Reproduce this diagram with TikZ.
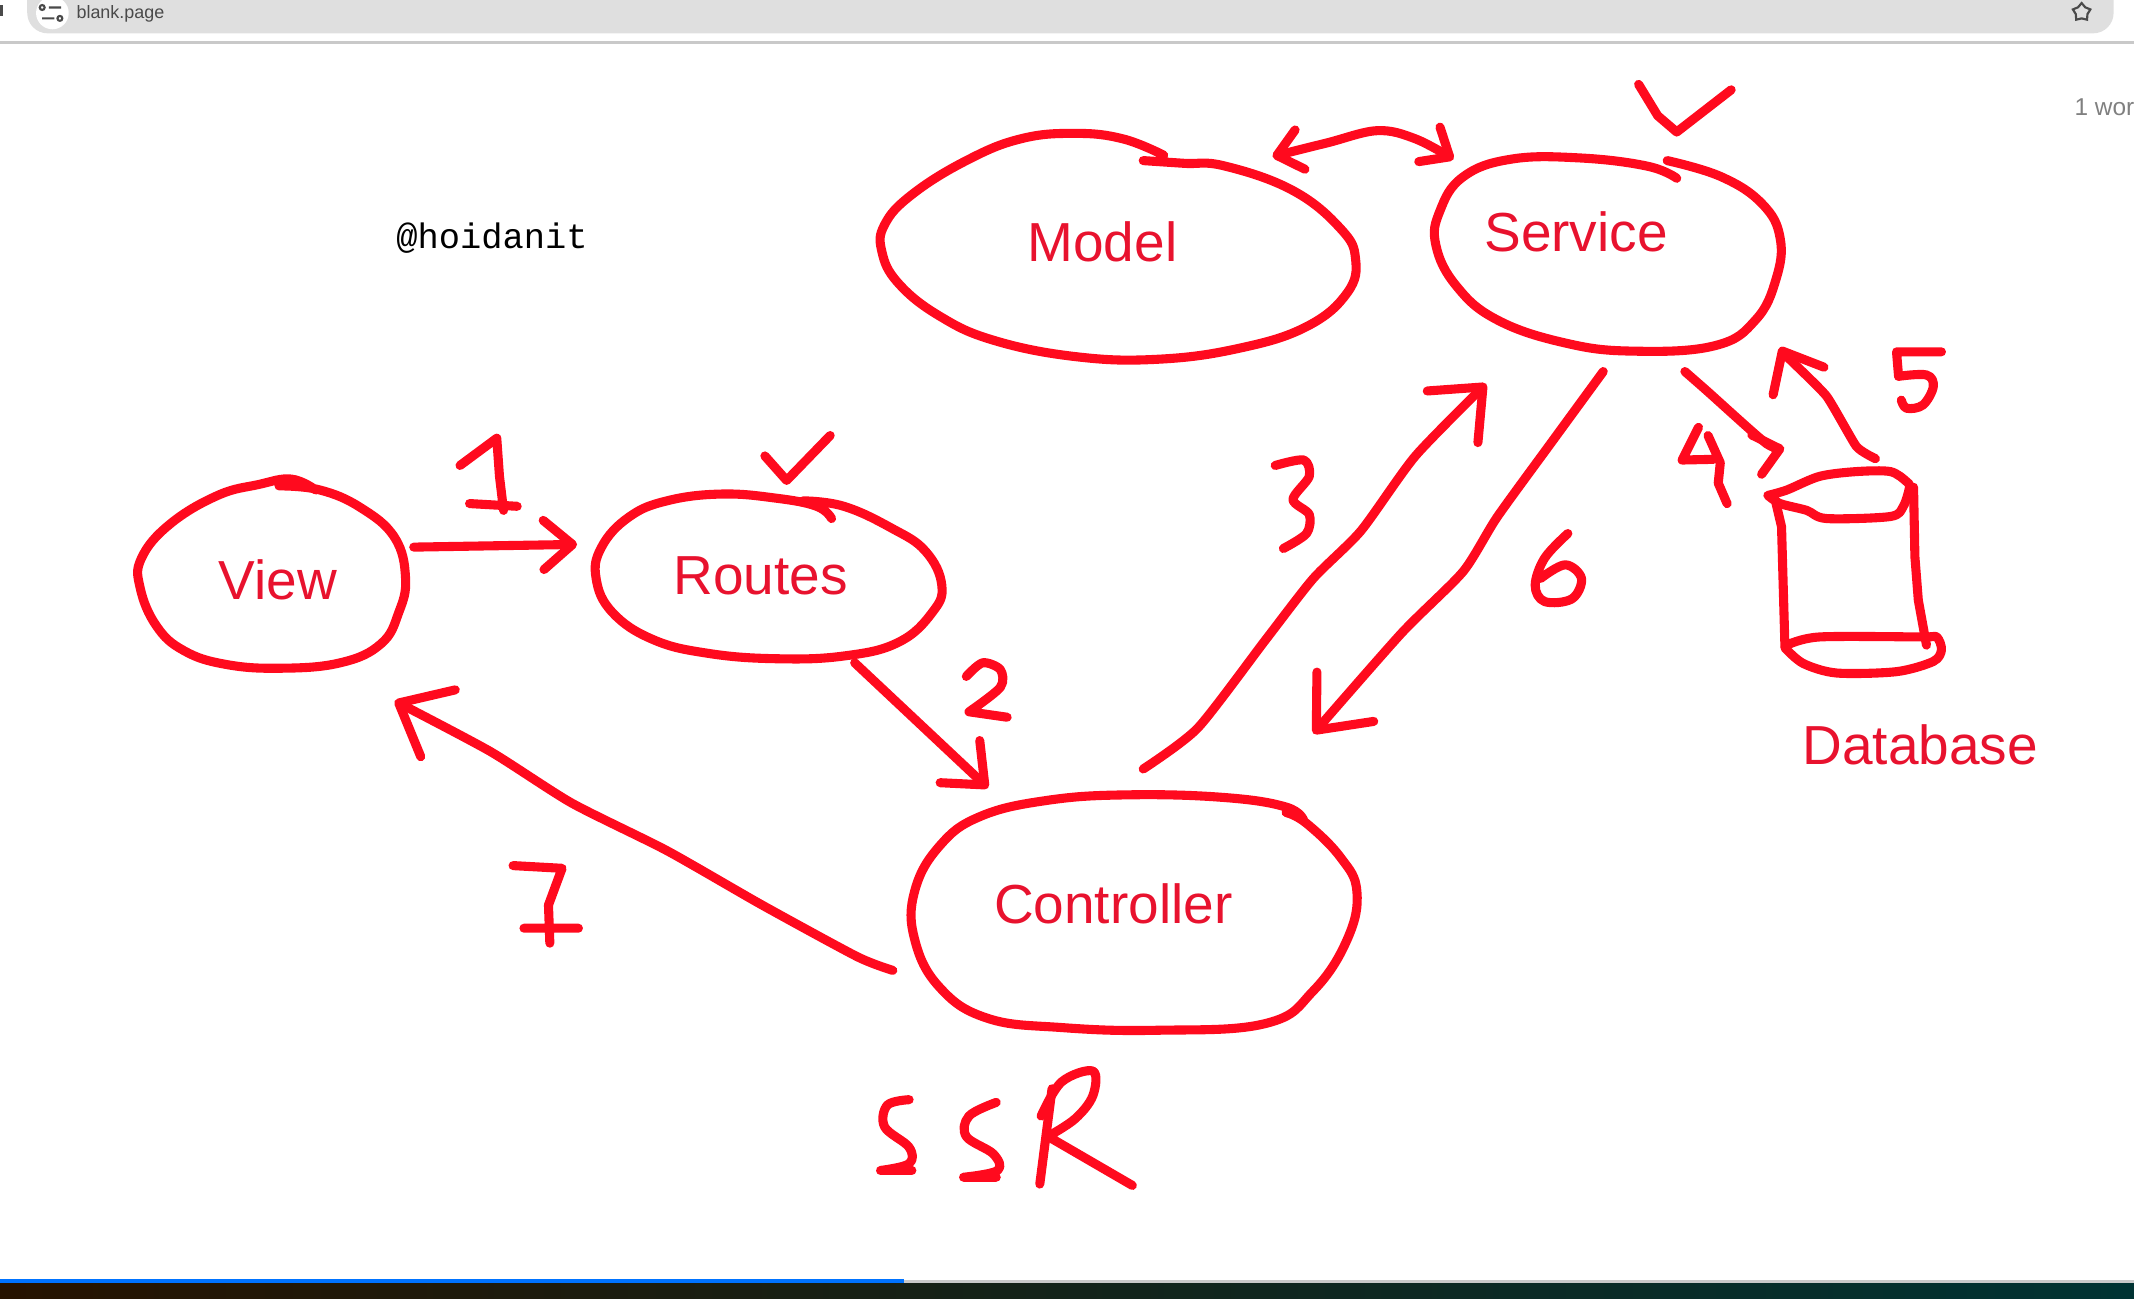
\documentclass[tikz,border=0pt]{standalone}
\usepackage{fontspec}
\setmainfont{Liberation Sans}
\setmonofont{Liberation Mono}
\usetikzlibrary{arrows.meta}
\usetikzlibrary{shapes.geometric}
\definecolor{penred}{HTML}{FF0A1E}
\definecolor{textred}{HTML}{E8122E}
\definecolor{bargray}{HTML}{DFDFDF}
\definecolor{linegray}{HTML}{C9C9C9}
\definecolor{icongray}{HTML}{4A4A4A}
\tikzset{
  pen/.style={penred, line width=3.8pt, line cap=round, line join=round},
  head/.style={>={Straight Barb[length=#1*.5cm, width=#1*.85cm, round]}},
  lbl/.style={textred, font=\fontsize{23}{23}\selectfont, inner sep=0pt},
}

\begin{document}
\begin{tikzpicture}[x=.02cm, y=-.02cm]
\useasboundingbox (0,0) rectangle (1568,954);
\clip (0,0) rectangle (1568,954);
% browser bar
\fill [bargray, rounded corners=.3cm] (20,-20) rectangle (1553,24.5);
\draw [linegray, line width=1.2pt] (0,31) -- (1568,31);
\fill [white] (38.5,9.5) circle (12);
\draw [icongray, line width=.9pt] (31,5.5) circle (1.8) (36,5.5) -- (45,5.5) (31,13.5) -- (40,13.5) (44,13.5) circle (1.8);
\fill [icongray] (0,4) rectangle (2,12);
\node (page) at (88.5,10.5) {\textcolor{icongray}{\fontsize{7.5}{8}\selectfont blank.page}};
\node (star) [star, star points=5, draw=icongray, line width=.9pt, minimum size=.27cm, inner sep=0pt] at (1529.5,9) {};
\node (words) [anchor=west, inner sep=0pt, text=gray] at (1524,79) {\fontsize{10.2}{11}\selectfont 1 wor};
% task bar
\fill [left color=black!85!orange, right color=black!80!cyan] (0,943) rectangle (1568,954);
\draw [linegray, line width=1.4pt] (664,941.5) -- (1568,941.5);
\draw [blue!55!cyan, line width=1.6pt] (0,941.5) -- (664,941.5);
% nodes
\node (handle) at (361.5,175) {\ttfamily\fontsize{14.8}{15}\selectfont @hoidanit};
\node (view) [lbl] at (204,426) {View};
\node (routes) [lbl] at (559,423) {Routes};
\node (model) [lbl] at (810,178) {Model};
\node (service) [lbl] at (1158,170) {Service};
\node (controller) [lbl] at (818,664) {Controller};
\node (dbase) [lbl] at (1411,547) {Database};
% outlines
\draw [pen] plot [smooth, tension=.7] coordinates {(232,360) (214,352) (190,356) (160,364) (125,385) (104,410) (103,432) (115,460) (135,478) (165,488) (205,491) (250,487) (280,473) (293,450) (298,425) (290,395) (265,373) (235,360) (205,357)};
\draw [pen] plot [smooth, tension=.7] coordinates {(611,381) (600,372) (570,366) (530,363) (490,368) (462,380) (442,402) (438,425) (450,450) (480,470) (520,480) (570,484) (620,482) (660,472) (685,450) (692,430) (680,405) (655,388) (620,372) (590,368)};
\draw [pen] plot [smooth, tension=.7] coordinates {(855,114) (825,102) (790,98) (750,102) (710,118) (670,143) (650,165) (648,185) (660,208) (690,232) (730,250) (790,262) (850,264) (910,256) (960,240) (990,215) (996,190) (985,168) (950,140) (900,122) (870,120) (840,118)};
\draw [pen] plot [smooth, tension=.7] coordinates {(1232,131) (1210,122) (1160,116) (1110,117) (1075,130) (1058,155) (1055,180) (1070,210) (1100,235) (1150,252) (1200,258) (1260,254) (1290,235) (1305,205) (1308,175) (1295,150) (1265,130) (1225,118)};
\draw [pen] plot [smooth, tension=.7] coordinates {(958,603) (945,593) (900,586) (830,584) (770,588) (720,600) (690,622) (672,655) (672,690) (690,725) (725,748) (780,755) (850,757) (930,752) (965,728) (990,690) (997,655) (985,630) (960,605) (945,597)};
% database
\draw [pen] plot [smooth, tension=.5] coordinates {(1299,364) (1313,360) (1337,350) (1364,346.5) (1389,346.5) (1401,354) (1403,358) (1398.5,372) (1389,379.5) (1342,381) (1327.5,375) (1308,370) (1299,364)};
\draw [pen] (1305,370) -- (1309,387) -- (1311.5,475);
\draw [pen] (1406,358) -- (1407,409) -- (1409.5,441) -- (1415.5,474);
\draw [pen] plot [smooth, tension=.5] coordinates {(1313,474) (1337,468) (1413,468) (1423,468) (1426.5,477.5) (1420.5,486) (1393.5,493.5) (1349.5,494.5) (1325,487.5) (1311.5,476)};
% arrows
\draw [pen, head=.85, ->] ([shift={(100,-24)}]view.center) -- ([shift={(-135,-23)}]routes.center);
\draw [pen, head=1, ->] ([shift={(69,64)}]routes.center) -- ([shift={(-92,-85)}]controller.center);
\draw [pen, head=1.25, ->] plot [smooth, tension=.4] coordinates {([shift={(22,-99)}]controller.center) (880,535) (930,470) (965,425) (1000,390) (1040,335) ([shift={(-66,112)}]service.center)};
\draw [pen, head=1.3, ->] plot [smooth, tension=.4] coordinates {([shift={(20,103)}]service.center) (1140,325) (1100,380) (1075,420) (1030,465) ([shift={(147,-125)}]controller.center)};
\draw [pen, head=1.3, ->] plot [smooth, tension=.4] coordinates {([shift={(-162,49)}]controller.center) (630,703) (560,665) (490,625) (420,590) (360,552) ([shift={(86,89)}]view.center)};
\draw [pen, head=.7, ->] plot [smooth, tension=.4] coordinates {([shift={(80,103)}]service.center) (1254,287) (1298,326) ([shift={(-100,-218)}]dbase.center)};
\draw [pen, head=1, ->] plot [smooth, tension=.3] coordinates {([shift={(-33,-210)}]dbase.center) (1364,328) (1342,291) (1313,262) ([shift={(150,85)}]service.center)};
\draw [pen, head=.7, <->] plot [smooth, tension=.6] coordinates {([shift={(125,-63)}]model.center) (975,105) (1012,96) (1040,102) ([shift={(-90,-53)}]service.center)};
% numbers
\draw [pen] (338,342) -- (365,322) -- (367,350) -- (370,375) (345,370) -- (380,372);
\draw [pen] plot [smooth, tension=.5] coordinates {(710,497) (722,487) (735,492) (735,505) (712,523)} -- (740,527);
\draw [pen] plot [smooth, tension=.5] coordinates {(937,342) (958,338) (962,350) (950,367) (962,378) (960,392) (943,403)};
\draw [pen] (1248,314) -- (1236,338) -- (1259,337.5) (1255,320) -- (1264,340) -- (1262.5,355) -- (1269,370);
\draw [pen] (1426.5,258.5) -- (1393.5,258.5) -- (1395,276.5);
\draw [pen] plot [smooth, tension=.6] coordinates {(1395,276.5) (1415.5,275.5) (1420.5,284) (1413,297.5) (1401,300) (1397,294)};
\draw [pen] plot [smooth, tension=.6] coordinates {(1152,392) (1135,410) (1128,430) (1135,442) (1155,440) (1162,425) (1150,415) (1132,425)};
\draw [pen] (377,636) -- (413,638) -- (403,665) -- (404,693) (385,682) -- (425,682);
% checks
\draw [pen] (1204,62) -- (1218,85) -- (1232,97) -- (1272,66);
\draw [pen] (562,335) -- (578,353) -- (610,320);
% ssr
\draw [pen] plot [smooth, tension=.6] coordinates {(668,808) (652,812) (650,828) (668,843) (668,855) (647,860)} -- (670,860);
\draw [pen] plot [smooth, tension=.6] coordinates {(732,810) (712,820) (710,835) (730,848) (733,860) (708,865)} -- (732,865);
\draw [pen] (773,800) -- (764,870);
\draw [pen] plot [smooth, tension=.6] coordinates {(765,820) (780,795) (803,787) (803,805) (790,822) (770,835)} -- (832,871);
\end{tikzpicture}
\end{document}
